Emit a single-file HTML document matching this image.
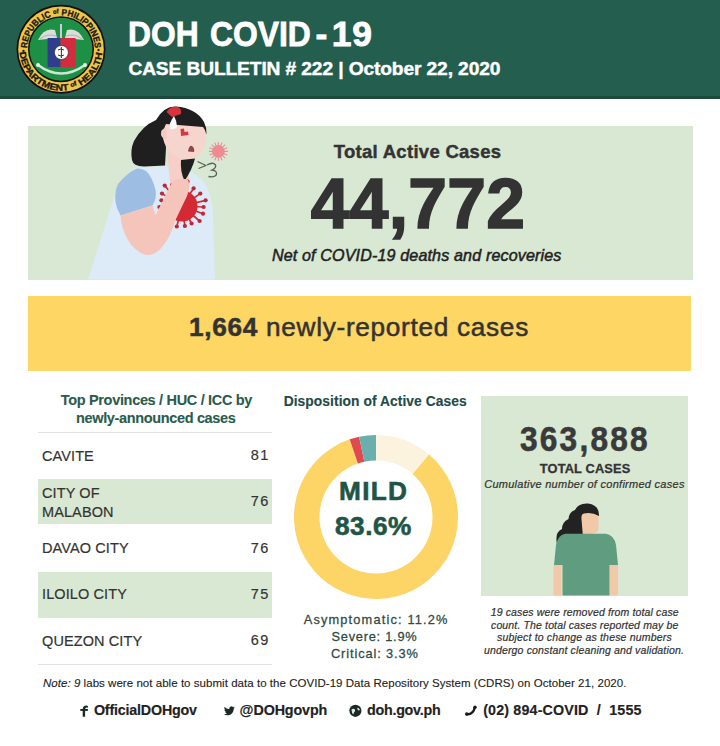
<!DOCTYPE html>
<html><head><meta charset="utf-8">
<style>
*{margin:0;padding:0;box-sizing:border-box}
html,body{width:720px;height:746px;overflow:hidden;background:#fff}
body{position:relative;font-family:"Liberation Sans",sans-serif;color:#333}
.a{position:absolute;white-space:nowrap;line-height:1}
.box{position:absolute}
.tr{font-size:14.5px;color:#333;letter-spacing:0.1px;-webkit-text-stroke:0.17px currentColor}
.tn{font-size:14.5px;color:#333;text-align:right;width:40px;letter-spacing:1.6px;-webkit-text-stroke:0.17px currentColor}
.ft{font-size:14.3px;font-weight:bold;color:#222;top:702.9px;-webkit-text-stroke:0.15px currentColor}
</style></head><body>
<div class="box" style="left:0;top:0;width:720px;height:96px;background:#245e4f"></div>
<div class="box" style="left:0;top:96px;width:720px;height:3px;background:#1b4a3d"></div>
<!-- logo -->
<svg class="a" style="left:0;top:0" width="120" height="99" viewBox="0 0 120 99">
  <defs>
    <path id="arcT" d="M27.2 49.2 A33.8 33.8 0 0 1 94.8 49.2"/>
    <path id="arcB" d="M19.6 49.2 A41.4 41.4 0 0 0 102.4 49.2"/>
  </defs>
  <circle cx="61" cy="49.2" r="44.5" fill="#111"/>
  <circle cx="61" cy="49.2" r="42.8" fill="#f1c445"/>
  <circle cx="61" cy="49.2" r="33" fill="#111"/>
  <circle cx="61" cy="49.2" r="31.5" fill="#1e9046"/>
  <g font-family="Liberation Sans" font-weight="bold" fill="#1a1a1a" stroke="#1a1a1a" stroke-width="0.35" font-size="9">
    <text><textPath href="#arcT" startOffset="1" textLength="104" lengthAdjust="spacingAndGlyphs">REPUBLIC ᵒᶠ PHILIPPINES</textPath></text>
    <text><textPath href="#arcB" startOffset="3" textLength="123" lengthAdjust="spacingAndGlyphs">DEPARTMENT ᵒᶠ HEALTH</textPath></text>
  </g>
  <circle cx="23.5" cy="51" r="1.2" fill="#222"/>
  <circle cx="98.5" cy="50" r="1.2" fill="#222"/>
  <!-- wings -->
  <path d="M38 40 Q44 27 55 30 L57 38 Z" fill="#d9dedb"/>
  <path d="M84 40 Q78 27 67 30 L65 38 Z" fill="#d9dedb"/>
  <path d="M40 39 Q47 33 56 36" stroke="#9aa" stroke-width="0.8" fill="none"/>
  <path d="M82 39 Q75 33 66 36" stroke="#9aa" stroke-width="0.8" fill="none"/>
  <rect x="60" y="24" width="2" height="14" fill="#ccd"/>
  <rect x="47.6" y="38" width="13" height="29" fill="#2f3d8c"/>
  <rect x="60.6" y="38" width="15" height="29" fill="#d52b3e"/>
  <circle cx="61.4" cy="52.5" r="7" fill="#fff" stroke="#222" stroke-width="0.7"/>
  <path d="M61.4 47 v11 M58 50 q3 -2 6 0 M58 55 q3 2 6 0" stroke="#333" stroke-width="1" fill="none"/>
  <path d="M38 65 Q61 82 85 65" stroke="#cfe7d6" stroke-width="2.5" fill="none"/>
  <circle cx="38" cy="65" r="2" fill="#e6f0ea"/><circle cx="85" cy="65" r="2" fill="#e6f0ea"/>
</svg>
<div class="a" style="left:128.2px;top:17.3px;font-size:35.5px;font-weight:bold;color:#fff;-webkit-text-stroke:0.8px currentColor;transform-origin:0 0;transform:scaleX(0.896)">DOH</div><div class="a" style="left:210.2px;top:17.3px;font-size:35.5px;font-weight:bold;color:#fff;-webkit-text-stroke:0.8px currentColor;transform-origin:0 0;transform:scaleX(0.897)">COVID</div><div class="a" style="left:315.6px;top:17.3px;font-size:35.5px;font-weight:bold;color:#fff;-webkit-text-stroke:0.8px currentColor;transform-origin:0 0">-</div><div class="a" style="left:331.8px;top:17.3px;font-size:35.5px;font-weight:bold;color:#fff;-webkit-text-stroke:0.8px currentColor;transform-origin:0 0;letter-spacing:0.7px">19</div>
<div class="a" style="left:128.4px;top:59.2px;font-size:19.2px;font-weight:bold;color:#fff;letter-spacing:-0.12px;-webkit-text-stroke:0.44px currentColor">CASE BULLETIN # 222 | October 22, 2020</div>

<!-- green active box -->
<div class="box" style="left:27.5px;top:125.8px;width:665px;height:153.8px;background:#d8e8d2"></div>
<!-- woman 1 -->
<svg class="a" style="left:0;top:99px" width="260" height="185" viewBox="0 99 260 185">
  <rect x="0" y="99" width="260" height="27" fill="#fff"/>
  <!-- dress -->
  <path d="M88 279.5 L115 194 Q122 176 135 168 L168 166 Q192 168 204 182 Q213 196 213 215 L215 279.5 Z" fill="#ddebf8"/>
  <!-- neck / chest pink -->
  <path d="M166 140 L184 150 L190 184 L182 198 L174 196 L170 182 Z" fill="#f6cfc8"/>
  <!-- hair left lobe + top -->
  <path d="M156 120 Q164 106 176 106.5 Q196 108 204 122 Q207 128 206.5 134 L200 128 L166 125 L164 132 L166 148 L165 165.5 L144 166.5 Q133 166 132 160 Q130 150 134 141 Q142 126 156 120 Z" fill="#1f1f1f"/>
  <!-- face -->
  <path d="M166 124 L203 127 Q207 132 206 140 Q204 150 200 154 Q196 159 188 160 L178 158 Q168 152 166 146 Q162 140 163 131 Z" fill="#f7d5cf"/>
  <path d="M166 128 Q160 129 161 135 Q163 140 167 139 Z" fill="#f3cac2"/>
  <!-- hair strand -->
  <path d="M181 160 L195 158.5 Q192 170 184.5 181 Q180 171 181 160 Z" fill="#1f1f1f"/>
  <!-- clip, sweat, marks, mouth -->
  <path d="M166.5 112 Q170 106 178 107 Q182 109 181 114 L172 117 Z" fill="#d8323c"/>
  <path d="M174 116 Q169 123 169.5 128 Q173 131 177 127 Q177 121 174 116 Z" fill="#fbfbfb"/>
  <path d="M180.5 129 L184 128.5 L184.5 132 L188 131.5 L188.5 135 L181 136 Z" fill="#d23a40"/>
  <path d="M188 151.5 Q189 145 192 146 Q195 148 194 152 Z" fill="#8b4a45"/>
  <!-- sleeve -->
  <path d="M137 168.5 Q128 172 118 184 Q113 195 117 208 L120.5 215.5 L152.5 205.5 Q157 198 155.5 190 Q152 176 146 171 Q142 168 137 168.5 Z" fill="#9dbde3"/>
  <!-- virus on chest -->
  <g fill="#d32a35">
    <circle cx="182" cy="206" r="15.5"/>
  </g>
  <g stroke="#d32a35" stroke-width="1.7" fill="none">
    <path d="M182 206 L187.5 181.6 M182 206 L193.6 188.3 M182 206 L200.3 193.6 M182 206 L205.6 200.3 M182 206 L203.6 207 M182 206 L203 213.7 M182 206 L199.6 221 M182 206 L191.6 223.5 M182 206 L184.9 226 M182 206 L176.8 226.5 M182 206 L164.7 185.6 M182 206 L172 185 M182 206 L162 193.6 M182 206 L161.4 200.3 M182 206 L159.4 207"/>
  </g>
  <g fill="#c0263a">
    <circle cx="187.5" cy="181.6" r="2.1"/><circle cx="193.6" cy="188.3" r="2.1"/><circle cx="200.3" cy="193.6" r="2.1"/><circle cx="205.6" cy="200.3" r="2.1"/><circle cx="203.6" cy="207" r="2.1"/><circle cx="203" cy="213.7" r="2.1"/><circle cx="199.6" cy="221" r="2.1"/><circle cx="191.6" cy="223.5" r="2.1"/><circle cx="184.9" cy="226" r="2.1"/><circle cx="176.8" cy="226.5" r="2.1"/><circle cx="164.7" cy="185.6" r="2.1"/><circle cx="172" cy="185" r="2.1"/><circle cx="162" cy="193.6" r="2.1"/><circle cx="161.4" cy="200.3" r="2.1"/><circle cx="159.4" cy="207" r="2.1"/>
  </g>
  <!-- arm -->
  <path d="M120.5 215.5 L152.5 205.5 L155.5 215.5 L172.5 181 Q180 177 188 180 Q191 186 187 196 L176 219 Q170 238 163 246 Q155 256 146 255 Q134 251 128 240 Q121 228 120.5 215.5 Z" fill="#f5c5bb"/>
  <!-- small virus -->
  <g stroke="#ee8c95" stroke-width="1.1"><path d="M218.4 142 v19 M209 151.4 h19 M211.7 144.7 l13.4 13.4 M225.1 144.7 l-13.4 13.4 M214.8 142.6 l7.2 17.6 M209.6 147.8 l17.6 7.2 M222 142.6 l-7.2 17.6 M227.2 147.8 l-17.6 7.2"/></g>
  <circle cx="218.4" cy="151.4" r="6.3" fill="#ef8a93"/>
  <!-- cough -->
  <path d="M197.5 161.5 L206 165.5 L198.5 168.5" stroke="#5a625a" stroke-width="1.3" fill="none" stroke-linejoin="round"/>
  <path d="M207 165 q6 -3.5 8.5 0 q1 3 -3.5 5 q5 0.5 4.5 4.5 q-2 3.5 -8 2" stroke="#5a625a" stroke-width="1.3" fill="none"/>
</svg>
<div class="a" style="left:333.7px;top:143px;font-size:18.5px;font-weight:bold;color:#333;letter-spacing:0.29px;-webkit-text-stroke:0.43px currentColor">Total Active Cases</div>
<div class="a" style="left:310.7px;top:169.5px;font-size:69.6px;font-weight:bold;color:#333;letter-spacing:0.28px;-webkit-text-stroke:1.60px currentColor">44,772</div>
<div class="a" style="left:271.9px;top:247.3px;font-size:16.1px;font-style:italic;color:#222;letter-spacing:0.14px;-webkit-text-stroke:0.5px currentColor">Net of COVID-19 deaths and recoveries</div>

<!-- yellow -->
<div class="box" style="left:27.5px;top:295.8px;width:663.8px;height:75.4px;background:#fdd663"></div>
<div class="a" style="left:189px;top:314.3px;font-size:26.2px;color:#333;letter-spacing:0.7px;-webkit-text-stroke:0.52px currentColor"><b>1,664</b> newly-reported cases</div>

<!-- table -->
<div class="a" style="left:60.7px;top:392.5px;font-size:14.5px;font-weight:bold;color:#2a5b4c;letter-spacing:-0.32px;-webkit-text-stroke:0.1px currentColor">Top Provinces / HUC / ICC by</div>
<div class="a" style="left:76px;top:410.9px;font-size:14.5px;font-weight:bold;color:#2a5b4c;letter-spacing:-0.35px;-webkit-text-stroke:0.1px currentColor">newly-announced cases</div>
<div class="box" style="left:38px;top:432px;width:234px;height:1px;background:#e2e2e2"></div>
<div class="box" style="left:38px;top:479px;width:234px;height:45px;background:#d8e8d2"></div>
<div class="box" style="left:38px;top:572px;width:234px;height:46px;background:#d8e8d2"></div>
<div class="box" style="left:38px;top:664px;width:234px;height:1px;background:#e2e2e2"></div>
<div class="a tr" style="left:42px;top:448.7px">CAVITE</div>
<div class="a tr" style="left:42px;top:485.7px">CITY OF</div>
<div class="a tr" style="left:42px;top:504.7px">MALABON</div>
<div class="a tr" style="left:42px;top:541px">DAVAO CITY</div>
<div class="a tr" style="left:42px;top:587.4px">ILOILO CITY</div>
<div class="a tr" style="left:42px;top:634px">QUEZON CITY</div>
<div class="a tn" style="left:230px;top:448.2px">81</div>
<div class="a tn" style="left:230px;top:494.3px">76</div>
<div class="a tn" style="left:230px;top:540.9px">76</div>
<div class="a tn" style="left:230px;top:586.7px">75</div>
<div class="a tn" style="left:230px;top:633.2px">69</div>

<!-- disposition -->
<div class="a" style="left:283.7px;top:394.9px;font-size:13.8px;font-weight:bold;color:#1f4b48;letter-spacing:0.07px;-webkit-text-stroke:0.15px currentColor">Disposition of Active Cases</div>
<svg class="a" style="left:293.6px;top:435px" width="164" height="164" viewBox="-82 -82 164 164">
<path fill="#fcf3df" d="M0.00 -82.00 A82.00 82.00 0 0 1 53.06 -62.52 L36.56 -43.08 A56.50 56.50 0 0 0 0.00 -56.50 Z"/>
<path fill="#fdd567" d="M53.06 -62.52 A82.00 82.00 0 1 1 -26.32 -77.66 L-18.13 -53.51 A56.50 56.50 0 1 0 36.56 -43.08 Z"/>
<path fill="#e04a4f" d="M-26.32 -77.66 A82.00 82.00 0 0 1 -16.88 -80.24 L-11.63 -55.29 A56.50 56.50 0 0 0 -18.13 -53.51 Z"/>
<path fill="#6aaeae" d="M-16.88 -80.24 A82.00 82.00 0 0 1 -0.00 -82.00 L-0.00 -56.50 A56.50 56.50 0 0 0 -11.63 -55.29 Z"/>
</svg>
<div class="a" style="left:339px;top:477.8px;font-size:26.2px;font-weight:bold;color:#1f5545;letter-spacing:1.33px;-webkit-text-stroke:0.60px currentColor">MILD</div>
<div class="a" style="left:335px;top:512.8px;font-size:26.2px;font-weight:bold;color:#1f5545;letter-spacing:0.5px;-webkit-text-stroke:0.60px currentColor">83.6%</div>
<div class="a" style="left:303.7px;top:613.5px;font-size:12.8px;color:#2f4a42;letter-spacing:1.16px;-webkit-text-stroke:0.26px currentColor">Asymptomatic: 11.2%</div>
<div class="a" style="left:331.5px;top:631.2px;font-size:12.8px;color:#2f4a42;letter-spacing:0.76px;-webkit-text-stroke:0.26px currentColor">Severe: 1.9%</div>
<div class="a" style="left:331px;top:647.8px;font-size:12.8px;color:#2f4a42;letter-spacing:0.88px;-webkit-text-stroke:0.26px currentColor">Critical: 3.3%</div>

<!-- right box -->
<div class="box" style="left:481px;top:395.5px;width:206.5px;height:200px;background:#d8e8d2"></div>
<svg class="a" style="left:481px;top:395px" width="207" height="201" viewBox="481 395 207 201">
  <path d="M581 514 Q590 510 598.5 513 L598.5 529 Q597.5 533.5 592.5 533.5 L592.5 537 L583 537 L582 533 Z" fill="#f2c9a8"/>
  <path d="M599 516 Q599.5 505 588 503.5 Q578 503 575 510 Q569 512 568.5 519 Q562 522 562 529 Q556 532 556.5 539 Q556 543 558 544.5 L566 537 L583 537.5 L581.5 519 Q581 514 584 513.5 Q592 512 599 516 Z" fill="#222"/>
  <path d="M553.5 565 h8 v30.5 h-8 z M610 565 h8 v30.5 h-8 z" fill="#f2c9a8"/>
  <path d="M565 533.8 L606 533.8 Q614 535 616 545 L618 565 L609.5 565 L609.5 595.5 L562.5 595.5 L562.5 565 L554 565 L556 545 Q558 535 565 533.8 Z" fill="#5f9c80"/>
</svg>
<div class="a" style="left:519.9px;top:422.3px;font-size:34.4px;font-weight:bold;color:#3a3a3a;letter-spacing:2.4px;-webkit-text-stroke:0.6px currentColor;transform:scaleX(0.92);transform-origin:0 0">363,888</div>
<div class="a" style="left:539.8px;top:462.5px;font-size:12.8px;font-weight:bold;color:#333;letter-spacing:0.15px;-webkit-text-stroke:0.29px currentColor">TOTAL CASES</div>
<div class="a" style="left:484.2px;top:478.7px;font-size:11px;font-style:italic;color:#333;letter-spacing:0.27px;-webkit-text-stroke:0.22px currentColor">Cumulative number of confirmed cases</div>
<div class="a" style="left:490.7px;top:606.6px;font-size:10.5px;font-style:italic;color:#333;letter-spacing:0.13px;-webkit-text-stroke:0.21px currentColor">19 cases were removed from total case</div>
<div class="a" style="left:491px;top:619.7px;font-size:10.5px;font-style:italic;color:#333;letter-spacing:0.14px;-webkit-text-stroke:0.21px currentColor">count. The total cases reported may be</div>
<div class="a" style="left:497px;top:632.2px;font-size:10.5px;font-style:italic;color:#333;letter-spacing:0.18px;-webkit-text-stroke:0.21px currentColor">subject to change as these numbers</div>
<div class="a" style="left:484px;top:645.4px;font-size:10.5px;font-style:italic;color:#333;letter-spacing:0.15px;-webkit-text-stroke:0.21px currentColor">undergo constant cleaning and validation.</div>

<!-- note + footer -->
<div class="a" style="left:43px;top:677.6px;font-size:11.5px;color:#222;letter-spacing:0.04px;-webkit-text-stroke:0.12px currentColor"><i>Note: 9</i> labs were not able to submit data to the COVID-19 Data Repository System (CDRS) on October 21, 2020.</div>
<svg class="a" style="left:0;top:695px" width="720" height="30" viewBox="0 695 720 30">
  <g fill="#1b2a25">
  <path d="M82.7 716.7 V709.5 Q82.7 705.6 86.5 705.6 L88 705.9 L87.8 707.8 L86.6 707.6 Q85.1 707.6 85.1 709.3 V716.7 Z"/>
  <rect x="80.3" y="709" width="7.6" height="1.9"/>
  <path transform="translate(223.9 705.4) scale(0.455)" d="M23.953 4.57a10 10 0 01-2.825.775 4.958 4.958 0 002.163-2.723c-.951.555-2.005.959-3.127 1.184a4.92 4.92 0 00-8.384 4.482C7.69 8.095 4.067 6.13 1.64 3.162a4.822 4.822 0 00-.666 2.475c0 1.71.87 3.213 2.188 4.096a4.904 4.904 0 01-2.228-.616v.06a4.923 4.923 0 003.946 4.827 4.996 4.996 0 01-2.212.085 4.936 4.936 0 004.604 3.417 9.867 9.867 0 01-6.102 2.105c-.39 0-.779-.023-1.17-.067a13.995 13.995 0 007.557 2.209c9.053 0 13.998-7.496 13.998-13.985 0-.21 0-.42-.015-.63A9.935 9.935 0 0024 4.59z"/>
  <circle cx="355.4" cy="710.8" r="6.1"/>
  </g>
  <path d="M351.5 709.5 q2 -1.5 3.5 0 q0.5 2 -1 3 l-0.8 2 q-1.5 -1.5 -1.7 -5 z M357.3 707.8 q2 0 2.6 2.2 l-1.6 0.6 q-1.2 -1 -1 -2.8 z" fill="#dfe9e4"/>
  <path d="M466.6 714.2 Q473 715 474.9 707.2" stroke="#1a1a1a" stroke-width="2.4" fill="none" stroke-linecap="round"/>
  <circle cx="466.8" cy="714" r="1.7" fill="#1a1a1a"/><circle cx="475" cy="707.3" r="1.7" fill="#1a1a1a"/>
</svg>
<div class="a ft" style="left:93.9px;letter-spacing:-0.19px">OfficialDOHgov</div>
<div class="a ft" style="left:239.6px;letter-spacing:-0.11px">@DOHgovph</div>
<div class="a ft" style="left:367px;letter-spacing:-0.26px">doh.gov.ph</div>
<div class="a ft" style="left:483.2px;letter-spacing:0.15px">(02) 894-COVID &nbsp;/&nbsp; 1555</div>
</body></html>
